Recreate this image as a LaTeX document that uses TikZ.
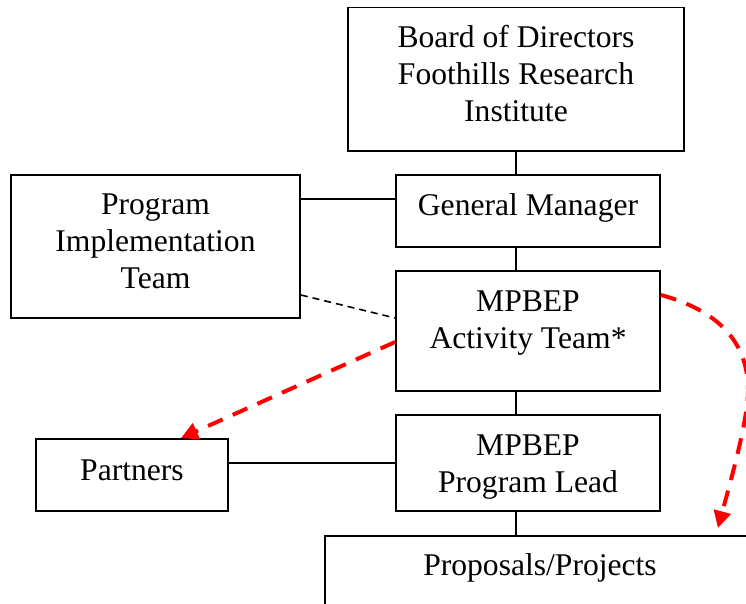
\documentclass[tikz,border=0pt]{standalone}
\usepackage{fontspec}
\setmainfont{Liberation Serif}
\usetikzlibrary{arrows.meta}
\begin{document}
\begin{tikzpicture}[x=1pt,y=-1pt,
  box/.style={draw, line width=1.8pt, fill=white, inner sep=0pt},
  txt/.style={font=\fontsize{31.6}{37}\selectfont, align=center, inner sep=0pt, anchor=base},
  conn/.style={line width=1.8pt},
  blackdash/.style={line width=1.6pt, dash pattern=on 7pt off 5pt},
  reddash/.style={draw=red, line width=4pt, dash pattern=on 16pt off 11pt,
    -{Triangle[length=17pt,width=17pt]}}]
\useasboundingbox (0,0) rectangle (746,604);
\clip (0,0) rectangle (746,604);

% boxes
\node[box, minimum width=336pt, minimum height=143.5pt] (board) at (516,79.25) {};
\node[box, minimum width=264pt, minimum height=72pt] (gm) at (528,211) {};
\node[box, minimum width=289pt, minimum height=143pt] (pit) at (155.5,246.5) {};
\node[box, minimum width=264pt, minimum height=120pt] (act) at (528,331) {};
\node[box, minimum width=264pt, minimum height=96pt] (lead) at (528,463) {};
\node[box, minimum width=192pt, minimum height=72pt] (part) at (132,475) {};
\node[box, minimum width=432pt, minimum height=140pt, anchor=north west] (prop) at (324,535) {};

% texts (anchor base = baseline of last line)
\node[txt] (boardt) at (516,122) {Board of Directors\\Foothills Research\\Institute};
\node[txt] (gmt) at (528,215) {General Manager};
\node[txt] (pitt) at (155.5,288) {Program\\Implementation\\Team};
\node[txt] (actt) at (528,348) {MPBEP\\Activity Team*};
\node[txt] (leadt) at (528,492) {MPBEP\\Program Lead};
\node[txt] (partt) at (132,480) {Partners};
\node[txt] (propt) at (540,575) {Proposals/Projects};

% solid connectors
\draw[conn] (board.south) -- (board.south |- gm.north);
\draw[conn] (board.south |- gm.south) -- (board.south |- act.north);
\draw[conn] (board.south |- act.south) -- (board.south |- lead.north);
\draw[conn] (board.south |- lead.south) -- (board.south |- prop.north);
\draw[conn] ([yshift=12pt]gm.west) -- ([yshift=12pt]gm.west -| pit.east);
\draw[conn] (lead.west) -- (lead.west -| part.east);

% dashed connectors
\draw[blackdash] ([yshift=-48.5pt]pit.east) -- ([yshift=13pt]act.west);
\draw[reddash] ([yshift=-11pt]act.west) -- ([xshift=49pt]part.north);
\coordinate (bend) at (748,390);
\draw[reddash] ([yshift=36pt]act.east) .. controls +(55,15) and +(0,-50) .. (bend)
  .. controls +(0,30) and +(13,-48) .. ([xshift=177pt,yshift=7pt]prop.north);
\end{tikzpicture}
\end{document}
